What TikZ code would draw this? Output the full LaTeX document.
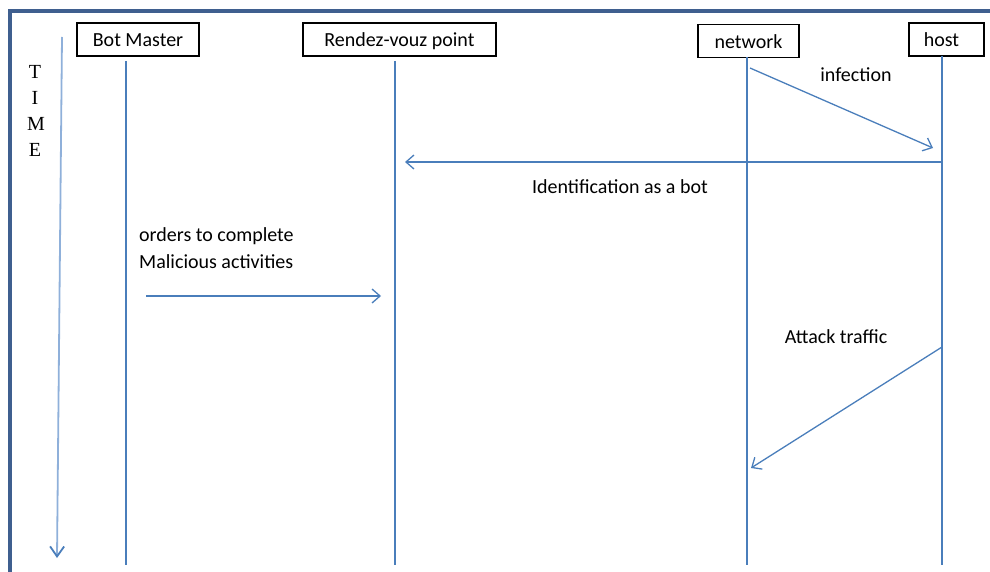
\documentclass[tikz,border=0pt]{standalone}
\usepackage{fontspec}
\setmainfont{Carlito}
\newfontfamily\timefont{Liberation Serif}
\usetikzlibrary{arrows.meta,positioning}
\definecolor{framecol}{HTML}{3F5F8F}
\definecolor{linecol}{HTML}{4A7EBB}
\definecolor{timecol}{HTML}{8FB0DA}

\begin{document}
\begin{tikzpicture}[
  x=1pt,y=-1pt,
  actor/.style={draw=black,line width=1.3pt,fill=white,minimum height=33pt,
    inner sep=0pt,text height=17pt,text depth=2pt,font=\fontsize{20}{23}\selectfont},
  lifeline/.style={draw=linecol,line width=1.3pt},
  msg/.style={draw=linecol,line width=1.3pt,-{Straight Barb[length=8pt,width=14pt]}},
  lbl/.style={font=\fontsize{20}{23}\selectfont,inner sep=0pt},
  timeletter/.style={font=\timefont\fontsize{20}{23}\selectfont,inner sep=0pt}
]
\useasboundingbox (0,0) rectangle (990,572);
% frame
\draw[framecol,line width=4pt] (10,600) -- (10,11.5) -- (1000,11.5);

% time axis
\node[timeletter] (t1) at (35,72) {T};
\node[timeletter] (t2) at (35,98) {I};
\node[timeletter] (t3) at (36,124) {M};
\node[timeletter] (t4) at (35,150) {E};
\coordinate (time-top) at (62,37);
\coordinate (time-end) at (57,558);
\draw[timecol,line width=1.8pt,-{Straight Barb[length=10pt,width=14pt,color=linecol]}] (time-top) -- (time-end);

% actors
\node[actor,minimum width=122pt] (master) at (138,39.5) {Bot Master};
\node[actor,minimum width=193pt] (rvp) at (399.5,39.5) {Rendez-vouz point};
\node[actor,minimum width=101pt] (net) at (748.5,41) {network};
\node[actor,minimum width=75pt] (host) at (946.5,39.5) {\hspace*{-10pt}host};

% lifelines
\foreach \name/\x/\top in {master/126/61, rvp/395/61, net/747/57, host/942/56} {
  \coordinate (\name-top) at (\x,\top);
  \coordinate (\name-end) at (\x,565);
  \draw[lifeline] (\name-top) -- (\name-end);
}

% messages
\coordinate (inf-a) at (750,68);
\coordinate (inf-b) at (933,148);
\draw[msg] (inf-a) -- (inf-b);
\node[lbl] (inf-lbl) at (856,75) {infection};

\coordinate (id-a) at (942,162);
\coordinate (id-b) at (405,162);
\draw[msg] (id-a) -- (id-b);
\node[lbl] (id-lbl) at (620,187) {Identification as a bot};

\coordinate (ord-a) at (146,296);
\coordinate (ord-b) at (381,296);
\draw[msg] (ord-a) -- (ord-b);
\node[lbl,anchor=west,align=left,font=\fontsize{20}{27}\selectfont] (ord-lbl) at (139,248.5)
  {orders to complete\\Malicious activities};

\coordinate (atk-a) at (942,347);
\coordinate (atk-b) at (751,468);
\draw[msg] (atk-a) -- (atk-b);
\node[lbl] (atk-lbl) at (836,337) {Attack traffic};
\end{tikzpicture}
\end{document}
